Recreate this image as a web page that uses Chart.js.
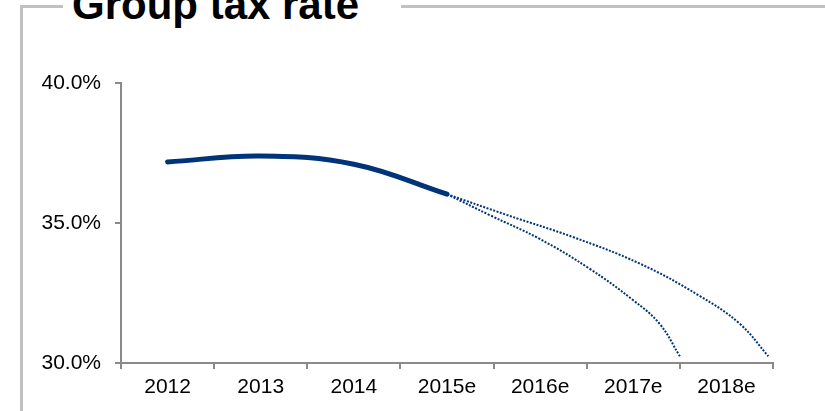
<!DOCTYPE html>
<html>
<head>
<meta charset="utf-8">
<script src="https://cdn.jsdelivr.net/npm/chart.js@4"></script>
<style>
  html, body { margin: 0; padding: 0; background: #fff; }
  body { width: 825px; height: 411px; position: relative; overflow: hidden; font-family: "Liberation Sans", Arial, sans-serif; }
  .frame {
    position: absolute; left: 20px; top: 5px; width: 803px; height: 420px;
    border-left: 3px solid #c0c0c0; border-top: 3px solid #c0c0c0; border-right: 1px solid #e4e4e4;
  }
  .title {
    position: absolute; left: 63px; top: -16px; height: 42px; line-height: 42px;
    padding: 0 42px 0 9px; background: #fff;
    font-size: 42px; font-weight: bold; color: #000; white-space: nowrap;
  }
  #chart { position: absolute; left: 0; top: 0; }
</style>
</head>
<body>
<div class="frame"></div>
<div class="title">Group tax rate</div>
<canvas id="chart" width="825" height="411"></canvas>
<script>
const categories = ["2012", "2013", "2014", "2015e", "2016e", "2017e", "2018e"];

// reported rate, one value per year up to 2015e
const actualRate = [37.18, 37.39, 37.1, 36.03];

// two projected paths starting from 2015e (x in category units)
const lowPathX = [3, 3.46, 3.99, 4.53, 5.0, 5.28, 5.5];
const lowPathY = [36.03, 35.28, 34.44, 33.37, 32.24, 31.41, 30.24];
const highPathX = [3, 3.64, 4.35, 5.07, 5.7, 6.14, 6.45];
const highPathY = [36.03, 35.29, 34.5, 33.55, 32.42, 31.41, 30.24];

const navy = "#003479";
const axisGray = "#8a8a8a";

function toPoints(xs, ys) {
  return xs.map((x, i) => ({ x: x, y: ys[i] }));
}

Chart.defaults.font.family = "'Liberation Sans', Arial, sans-serif";
Chart.defaults.color = "#000";

new Chart(document.getElementById("chart"), {
  type: "line",
  data: {
    labels: categories,
    datasets: [
      {
        data: actualRate.map((v, i) => ({ x: i, y: v })),
        xAxisID: "xv",
        borderColor: navy,
        borderWidth: 5,
        borderCapStyle: "round",
        tension: 0.4,
        pointRadius: 0,
        fill: false
      },
      {
        data: toPoints(lowPathX, lowPathY),
        xAxisID: "xv",
        borderColor: navy,
        borderWidth: 2,
        borderDash: [2, 1.5],
        tension: 0.4,
        pointRadius: 0,
        fill: false
      },
      {
        data: toPoints(highPathX, highPathY),
        xAxisID: "xv",
        borderColor: navy,
        borderWidth: 2,
        borderDash: [2, 1.5],
        tension: 0.4,
        pointRadius: 0,
        fill: false
      }
    ]
  },
  options: {
    responsive: false,
    animation: false,
    layout: { padding: { top: 83, right: 52, bottom: 0, left: 0 } },
    plugins: { legend: { display: false }, tooltip: { enabled: false } },
    scales: {
      x: {
        type: "category",
        offset: true,
        grid: { offset: true, drawOnChartArea: false, tickLength: 6, color: axisGray, lineWidth: 2 },
        border: { color: axisGray, width: 2 },
        ticks: { font: { size: 21 }, padding: 6, maxRotation: 0 },
        afterFit: (scale) => { scale.height = 48; }
      },
      xv: {
        type: "linear",
        display: false,
        min: -0.5,
        max: 6.5
      },
      y: {
        min: 30,
        max: 40,
        grid: { drawOnChartArea: false, tickLength: 6, color: axisGray, lineWidth: 2 },
        border: { color: axisGray, width: 2 },
        ticks: {
          stepSize: 5,
          padding: 14,
          font: { size: 21 },
          callback: (v) => v.toFixed(1) + "%"
        },
        afterFit: (scale) => { scale.width = 121; }
      }
    }
  }
});
</script>
</body>
</html>
